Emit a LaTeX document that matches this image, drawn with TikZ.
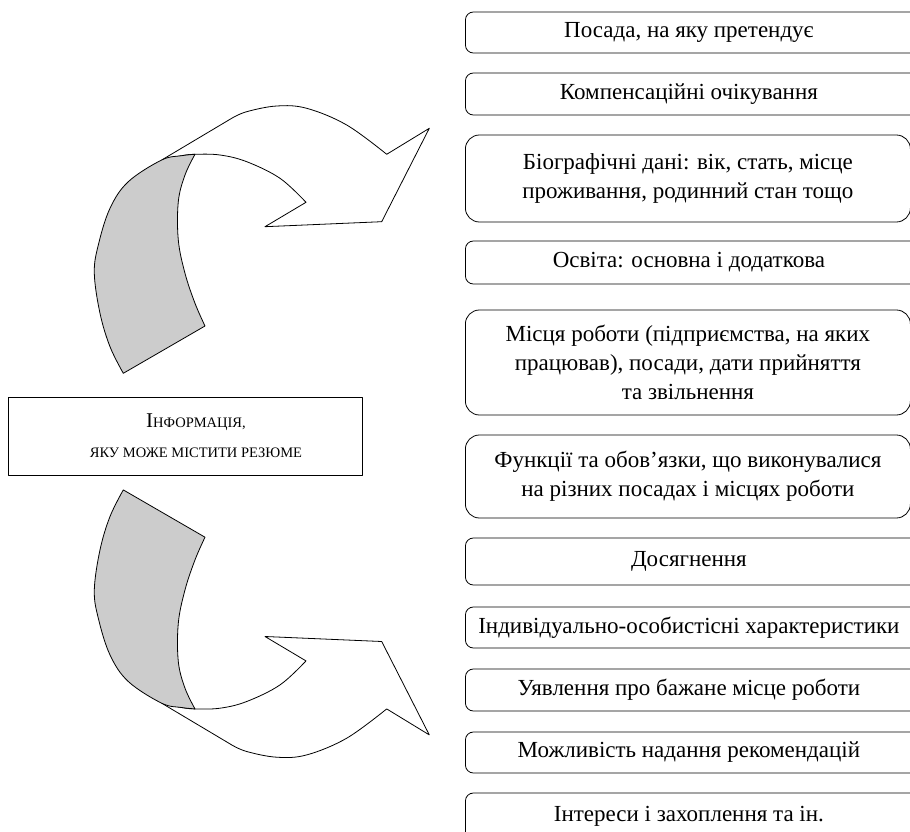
\documentclass[tikz,border=0pt]{standalone}
\usepackage{fontspec}
\setmainfont{Liberation Serif}
\usepackage{tikz}
\usetikzlibrary{positioning, calc, shapes.geometric}
\newcommand{\fakesc}[1]{{\fontsize{14.5}{30}\selectfont #1}}
\newcommand{\ribbon}{%
	\draw[fill=white] (161.7,160) -- (231.7,118.3) -- plot[smooth, tension=0.6] coordinates {(231.7,118.3) (246.7,111.7) (276.7,106) (306.7,108.3) (346.7,125) (386.7,154.3)}
		-- (429.3,128.3) -- (381.7,221.7) -- (265,226.7) -- (306,202.3)
		-- plot[smooth, tension=0.6] coordinates {(306,202.3) (280,178.3) (246.7,161.7) (220,155) (195,154.3) (181.7,155.7) (161.7,160)} -- cycle;
	\draw[fill=backside] (123.3,373.3) -- (205,326)
		-- plot[smooth, tension=0.6] coordinates {(205,326) (195,303.3) (185,273.3) (178.3,240) (178.3,201.7) (185,175) (195,154.3)}
		-- plot[smooth, tension=0.6] coordinates {(195,154.3) (181.7,155.7) (161.7,160) (128.3,181.7) (110,208.3) (98.3,245) (94.3,273.3) (100,313.3) (110,346.7) (123.3,373.3)} -- cycle;
}
\definecolor{backside}{gray}{0.8}

\begin{document}
\begin{tikzpicture}[
			x = 1pt, y = -1pt, line width = 0.8pt, line join = round,
			item/.style = {rectangle, draw, rounded corners = 8pt, anchor = west, text centered, align = center, minimum width = 455pt, inner sep = 0pt, font = \fontsize{23}{29}\selectfont},
			tallitem/.style = {item, rounded corners = 14pt, minimum width = 445pt},
			title/.style = {rectangle, draw, text centered, align = center, minimum width = 354pt, minimum height = 78pt, font = \fontsize{14.5}{30}\selectfont},
		]
		\useasboundingbox (0,0) rectangle (910,832);

		\ribbon
		\begin{scope}[shift = {(0,863.2)}, yscale = -1]
			\ribbon
		\end{scope}

		\node[title](C) at (185,436){\hspace*{22pt}{\fontsize{21}{30}\selectfont І}\fakesc{НФОРМАЦІЯ,}\\\hspace*{22pt}\fakesc{ЯКУ МОЖЕ МІСТИТИ РЕЗЮМЕ}};

		\node[item, minimum height = 41pt](I1) at (465,32.5){\hspace*{-8pt}Посада, на яку претендує};
		\node[item, minimum height = 42pt](I2) at (465,94){\hspace*{-8pt}Компенсаційні очікування};
		\node[tallitem, minimum height = 87pt](I3) at (465,178.5){Біографічні дані: вік, стать, місце\\проживання, родинний стан тощо};
		\node[item, minimum height = 43pt](I4) at (465,262.5){\hspace*{-8pt}Освіта: основна і додаткова};
		\node[tallitem, minimum height = 105pt](I5) at (465,362.5){Місця роботи (підприємства, на яких\\працював), посади, дати прийняття\\та звільнення};
		\node[tallitem, minimum height = 83pt](I6) at (465,476.5){Функції та обов’язки, що виконувалися\\на різних посадах і місцях роботи};
		\node[item, minimum height = 47pt](I7) at (465,561.5){\hspace*{-8pt}Досягнення};
		\node[item, minimum height = 41pt](I8) at (465,627.5){\hspace*{-8pt}Індивідуально-особистісні характеристики};
		\node[item, minimum height = 42pt](I9) at (465,690){\hspace*{-8pt}Уявлення про бажане місце роботи};
		\node[item, minimum height = 41pt](I10) at (465,752.5){\hspace*{-8pt}Можливість надання рекомендацій};
		\node[item, minimum height = 47pt](I11) at (465,816.5){\hspace*{-8pt}Інтереси і захоплення та ін.};

	\end{tikzpicture}
\end{document}
